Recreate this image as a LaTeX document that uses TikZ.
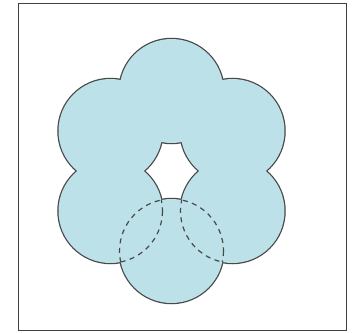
\documentclass[tikz,border=0pt]{standalone}
\definecolor{petal}{RGB}{188,225,232}
\definecolor{rim}{RGB}{72,72,72}
\begin{document}
\begin{tikzpicture}[x=1pt,y=-1pt,
    rimline/.style={draw=rim, line width=2.5pt},
    hidden/.style={draw=rim, line width=1.2pt, dash pattern=on 5pt off 4.5pt}]
    \useasboundingbox (0,0) rectangle (356,332);
    \draw[line width=1.4pt, draw=black!75] (18.5,3.7) rectangle (346.5,330.5);
    % centres of the six circles
    \coordinate (top) at (171.5,91);
    \coordinate (ul) at (110.5,131);
    \coordinate (ur) at (232.5,131);
    \coordinate (ll) at (110.5,211);
    \coordinate (lr) at (232.5,211);
    \coordinate (bot) at (171.5,251);
    \foreach \c in {top,ul,ur,ll,lr,bot} \draw[rimline] (\c) circle[radius=52];
    \foreach \c in {top,ul,ur,ll,lr,bot} \fill[petal] (\c) circle[radius=52];
    % hidden arcs
    \begin{scope}
      \clip (bot) circle[radius=52];
      \draw[hidden] (ll) circle[radius=52] (lr) circle[radius=52];
    \end{scope}
    \foreach \c in {ll,lr} {
      \begin{scope}
        \clip (\c) circle[radius=52];
        \draw[hidden] (bot) circle[radius=52];
      \end{scope}
    }
\end{tikzpicture}
\end{document}
